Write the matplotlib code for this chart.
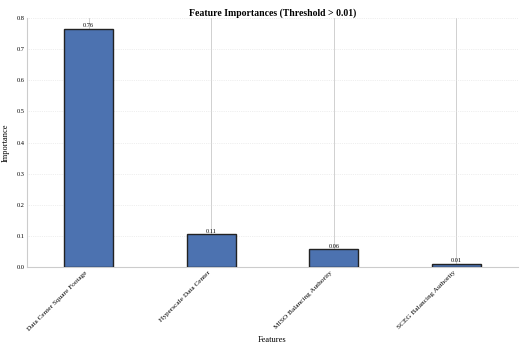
import matplotlib
matplotlib.use("Agg")
from matplotlib import pyplot as plt

features = ["Data Center Square Footage", "Hyperscale Data Center",
            "MISO Balancing Authority", "SCEG Balancing Authority"]
importances = [0.765, 0.105, 0.057, 0.011]
labels = ["0.76", "0.11", "0.06", "0.01"]

plt.rcParams["font.family"] = ["Liberation Serif", "DejaVu Serif"]

fig, ax = plt.subplots(figsize=(5.23, 3.49), dpi=100)
x = list(range(len(features)))
bars = ax.bar(x, importances, width=0.4, color="#4c72b0", edgecolor="#222222", linewidth=1.0, zorder=3)
for b, t in zip(bars, labels):
    ax.text(b.get_x() + b.get_width() / 2, b.get_height() + 0.002, t,
            ha="center", va="bottom", fontsize=4.5)

ax.set_xlim(-0.5, 3.5)
ax.set_ylim(0, 0.8)
ax.set_xticks(x)
ax.set_xticklabels(features, rotation=45, ha="right", fontsize=5.2)
ax.set_yticks([0, 0.1, 0.2, 0.3, 0.4, 0.5, 0.6, 0.7, 0.8])
ax.tick_params(axis="y", labelsize=4.6, length=0, pad=2)
ax.tick_params(axis="x", length=0, pad=2)
ax.xaxis.grid(True, color="#d0d0d0", linewidth=0.7, zorder=0)
ax.yaxis.grid(True, color="#e0e0e0", linestyle=":", linewidth=0.5, zorder=0)
for s in ["top", "right"]:
    ax.spines[s].set_visible(False)
for s in ["left", "bottom"]:
    ax.spines[s].set_color("#cccccc")
    ax.spines[s].set_linewidth(0.8)

ax.set_title("Feature Importances (Threshold > 0.01)", fontsize=7, fontweight="bold", pad=2)
ax.set_xlabel("Features", fontsize=6, labelpad=3)
ax.set_ylabel("Importance", fontsize=6, labelpad=5)

fig.subplots_adjust(left=0.052, right=0.99, top=0.948, bottom=0.235)
fig.savefig("out.png", dpi=100)
